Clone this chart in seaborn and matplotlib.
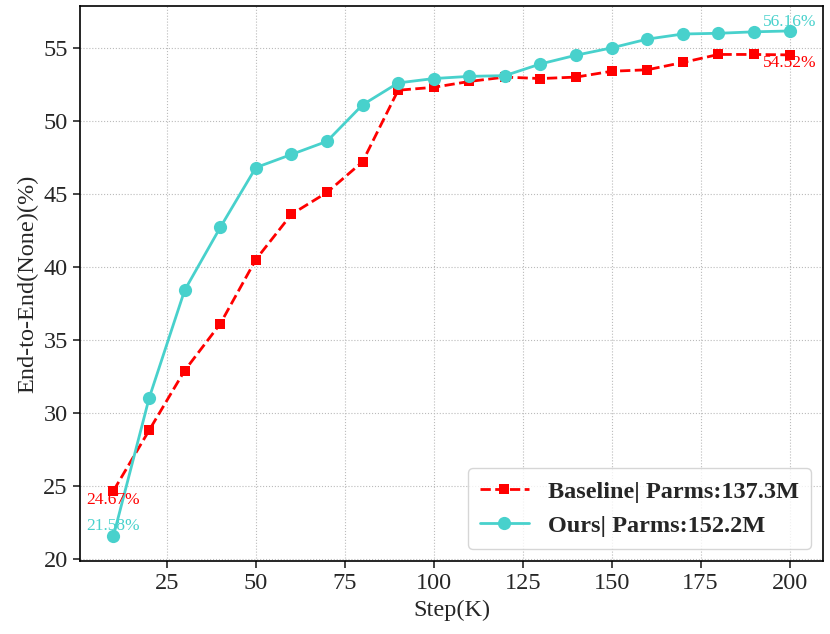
import pandas as pd
import seaborn as sns
import matplotlib.pyplot as plt

# Data
steps = [10, 20, 30, 40, 50, 60, 70, 80, 90, 100,
         110, 120, 130, 140, 150, 160, 170, 180, 190, 200]
baseline = [24.67, 28.8, 32.9, 36.1, 40.5, 43.6, 45.1, 47.2, 52.1, 52.3,
            52.7, 53.0, 52.9, 53.0, 53.4, 53.5, 54.0, 54.55, 54.55, 54.52]
ours = [21.58, 31.0, 38.4, 42.7, 46.8, 47.7, 48.6, 51.1, 52.6, 52.9,
        53.05, 53.1, 53.9, 54.5, 55.0, 55.6, 55.95, 56.0, 56.1, 56.16]
labels = ['Baseline| Parms:137.3M', 'Ours| Parms:152.2M']

sns.set_style('ticks')
plt.rcParams['font.family'] = ['Liberation Serif', 'DejaVu Serif']

df = pd.DataFrame({'Step': steps * 2,
                   'Value': baseline + ours,
                   'Model': [labels[0]] * len(steps) + [labels[1]] * len(steps)})

red = '#ff0000'
cyan = '#48d1cc'

fig, ax = plt.subplots(figsize=(8.3, 6.34), dpi=100)
fig.subplots_adjust(left=0.096, right=0.992, top=0.991, bottom=0.115)

sns.lineplot(data=df[df['Model'] == labels[0]], x='Step', y='Value', ax=ax,
             color=red, linestyle='--', marker='s', markersize=6.5,
             markeredgewidth=0, linewidth=2, label=labels[0])
sns.lineplot(data=df[df['Model'] == labels[1]], x='Step', y='Value', ax=ax,
             color=cyan, linestyle='-', marker='o', markersize=9.5,
             markeredgewidth=0, linewidth=2, label=labels[1])

ax.grid(True, linestyle=':', color='#bbbbbb', linewidth=0.8)
ax.set_xlabel('Step(K)', fontsize=17.5)
ax.set_ylabel('End-to-End(None)(%)', fontsize=17.5)
ax.tick_params(labelsize=17.5, width=1.2, length=5)
for s in ax.spines.values():
    s.set_color('black')
    s.set_linewidth(1.2)

# start / end annotations
ax.annotate(f'{baseline[0]:.2f}%', (steps[0], baseline[0]), xytext=(0, -1),
            textcoords='offset points', ha='center', va='top', color=red, fontsize=12.5)
ax.annotate(f'{ours[0]:.2f}%', (steps[0], ours[0]), xytext=(0, 1),
            textcoords='offset points', ha='center', va='bottom', color=cyan, fontsize=12.5)
ax.annotate(f'{ours[-1]:.2f}%', (steps[-1], ours[-1]), xytext=(0, 1),
            textcoords='offset points', ha='center', va='bottom', color=cyan, fontsize=12.5)
ax.annotate(f'{baseline[-1]:.2f}%', (steps[-1], baseline[-1]), xytext=(0, 0),
            textcoords='offset points', ha='center', va='top', color=red, fontsize=12.5)

ax.legend(loc='lower right', prop={'weight': 'bold', 'size': 17.5},
          frameon=True, edgecolor='#cccccc', fancybox=True, borderpad=0.5)

plt.savefig('out.png', dpi=100)
